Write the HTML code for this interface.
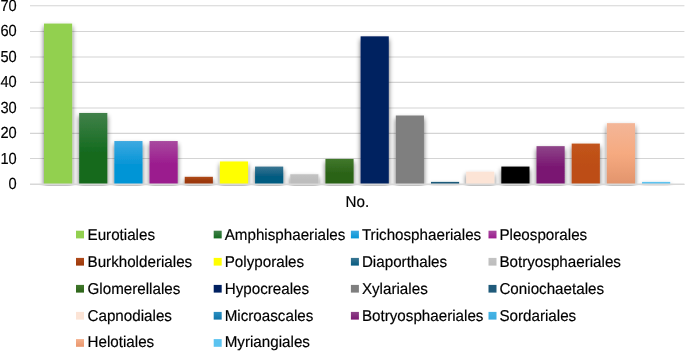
<!DOCTYPE html><html><head><meta charset="utf-8"><title>Chart</title><style>html,body{margin:0;padding:0;background:#fff;overflow:hidden}svg{display:block}text{text-rendering:geometricPrecision;stroke:#000;stroke-width:0.18px;font-family:"Liberation Sans",Arial,sans-serif;fill:#000}</style></head><body>
<svg width="685" height="351" viewBox="0 0 685 351">
<defs>
<linearGradient id="g0" x1="0" y1="0" x2="0" y2="1"><stop offset="0" stop-color="#92d050"/><stop offset="0.55" stop-color="#92d050"/><stop offset="1" stop-color="#92d050"/></linearGradient>
<linearGradient id="g1" x1="0" y1="0" x2="0" y2="1"><stop offset="0" stop-color="#41814a"/><stop offset="0.55" stop-color="#146b1f"/><stop offset="1" stop-color="#146b1f"/></linearGradient>
<linearGradient id="g2" x1="0" y1="0" x2="0" y2="1"><stop offset="0" stop-color="#3ea9e1"/><stop offset="0.55" stop-color="#0595d6"/><stop offset="1" stop-color="#0595d6"/></linearGradient>
<linearGradient id="g3" x1="0" y1="0" x2="0" y2="1"><stop offset="0" stop-color="#a84a9f"/><stop offset="0.55" stop-color="#9b1b8e"/><stop offset="1" stop-color="#9b1b8e"/></linearGradient>
<linearGradient id="g4" x1="0" y1="0" x2="0" y2="1"><stop offset="0" stop-color="#b04b1c"/><stop offset="0.55" stop-color="#9c390a"/><stop offset="1" stop-color="#9c390a"/></linearGradient>
<linearGradient id="g5" x1="0" y1="0" x2="0" y2="1"><stop offset="0" stop-color="#ffff00"/><stop offset="0.55" stop-color="#ffff00"/><stop offset="1" stop-color="#ffff00"/></linearGradient>
<linearGradient id="g6" x1="0" y1="0" x2="0" y2="1"><stop offset="0" stop-color="#3a7692"/><stop offset="0.55" stop-color="#065b81"/><stop offset="1" stop-color="#065b81"/></linearGradient>
<linearGradient id="g7" x1="0" y1="0" x2="0" y2="1"><stop offset="0" stop-color="#c3c3c3"/><stop offset="0.55" stop-color="#bdbdbd"/><stop offset="1" stop-color="#bdbdbd"/></linearGradient>
<linearGradient id="g8" x1="0" y1="0" x2="0" y2="1"><stop offset="0" stop-color="#41782c"/><stop offset="0.55" stop-color="#2c6418"/><stop offset="1" stop-color="#2c6418"/></linearGradient>
<linearGradient id="g9" x1="0" y1="0" x2="0" y2="1"><stop offset="0" stop-color="#002060"/><stop offset="0.55" stop-color="#002060"/><stop offset="1" stop-color="#002060"/></linearGradient>
<linearGradient id="g10" x1="0" y1="0" x2="0" y2="1"><stop offset="0" stop-color="#7f7f7f"/><stop offset="0.55" stop-color="#7f7f7f"/><stop offset="1" stop-color="#7f7f7f"/></linearGradient>
<linearGradient id="g11" x1="0" y1="0" x2="0" y2="1"><stop offset="0" stop-color="#1f5a7a"/><stop offset="0.55" stop-color="#1f5a7a"/><stop offset="1" stop-color="#1f5a7a"/></linearGradient>
<linearGradient id="g12" x1="0" y1="0" x2="0" y2="1"><stop offset="0" stop-color="#fce4d6"/><stop offset="0.55" stop-color="#fce4d6"/><stop offset="1" stop-color="#fce4d6"/></linearGradient>
<linearGradient id="g13" x1="0" y1="0" x2="0" y2="1"><stop offset="0" stop-color="#000000"/><stop offset="0.55" stop-color="#000000"/><stop offset="1" stop-color="#000000"/></linearGradient>
<linearGradient id="g14" x1="0" y1="0" x2="0" y2="1"><stop offset="0" stop-color="#8e4589"/><stop offset="0.55" stop-color="#7a1772"/><stop offset="1" stop-color="#7a1772"/></linearGradient>
<linearGradient id="g15" x1="0" y1="0" x2="0" y2="1"><stop offset="0" stop-color="#c2541c"/><stop offset="0.55" stop-color="#bd4e14"/><stop offset="1" stop-color="#bd4e14"/></linearGradient>
<linearGradient id="g16" x1="0" y1="0" x2="0" y2="1"><stop offset="0" stop-color="#f3b698"/><stop offset="0.5" stop-color="#f6aa80"/><stop offset="1" stop-color="#e2946c"/></linearGradient>
<linearGradient id="g17" x1="0" y1="0" x2="0" y2="1"><stop offset="0" stop-color="#5bc3f0"/><stop offset="0.55" stop-color="#5bc3f0"/><stop offset="1" stop-color="#5bc3f0"/></linearGradient>
<linearGradient id="l0" x1="0" y1="0" x2="0" y2="1"><stop offset="0" stop-color="#92d050"/><stop offset="1" stop-color="#92d050"/></linearGradient>
<linearGradient id="l1" x1="0" y1="0" x2="0" y2="1"><stop offset="0" stop-color="#41814a"/><stop offset="1" stop-color="#146b1f"/></linearGradient>
<linearGradient id="l2" x1="0" y1="0" x2="0" y2="1"><stop offset="0" stop-color="#3ea9e1"/><stop offset="1" stop-color="#0595d6"/></linearGradient>
<linearGradient id="l3" x1="0" y1="0" x2="0" y2="1"><stop offset="0" stop-color="#a84a9f"/><stop offset="1" stop-color="#9b1b8e"/></linearGradient>
<linearGradient id="l4" x1="0" y1="0" x2="0" y2="1"><stop offset="0" stop-color="#b04b1c"/><stop offset="1" stop-color="#9c390a"/></linearGradient>
<linearGradient id="l5" x1="0" y1="0" x2="0" y2="1"><stop offset="0" stop-color="#ffff00"/><stop offset="1" stop-color="#ffff00"/></linearGradient>
<linearGradient id="l6" x1="0" y1="0" x2="0" y2="1"><stop offset="0" stop-color="#3a7692"/><stop offset="1" stop-color="#065b81"/></linearGradient>
<linearGradient id="l7" x1="0" y1="0" x2="0" y2="1"><stop offset="0" stop-color="#c3c3c3"/><stop offset="1" stop-color="#bdbdbd"/></linearGradient>
<linearGradient id="l8" x1="0" y1="0" x2="0" y2="1"><stop offset="0" stop-color="#41782c"/><stop offset="1" stop-color="#2c6418"/></linearGradient>
<linearGradient id="l9" x1="0" y1="0" x2="0" y2="1"><stop offset="0" stop-color="#002060"/><stop offset="1" stop-color="#002060"/></linearGradient>
<linearGradient id="l10" x1="0" y1="0" x2="0" y2="1"><stop offset="0" stop-color="#7f7f7f"/><stop offset="1" stop-color="#7f7f7f"/></linearGradient>
<linearGradient id="l11" x1="0" y1="0" x2="0" y2="1"><stop offset="0" stop-color="#1f5a7a"/><stop offset="1" stop-color="#1f5a7a"/></linearGradient>
<linearGradient id="l12" x1="0" y1="0" x2="0" y2="1"><stop offset="0" stop-color="#fce4d6"/><stop offset="1" stop-color="#fce4d6"/></linearGradient>
<linearGradient id="l13" x1="0" y1="0" x2="0" y2="1"><stop offset="0" stop-color="#2b90c2"/><stop offset="1" stop-color="#0e74a8"/></linearGradient>
<linearGradient id="l14" x1="0" y1="0" x2="0" y2="1"><stop offset="0" stop-color="#8e4589"/><stop offset="1" stop-color="#7a1772"/></linearGradient>
<linearGradient id="l15" x1="0" y1="0" x2="0" y2="1"><stop offset="0" stop-color="#45b4e6"/><stop offset="1" stop-color="#3aaade"/></linearGradient>
<linearGradient id="l16" x1="0" y1="0" x2="0" y2="1"><stop offset="0" stop-color="#f4b08c"/><stop offset="1" stop-color="#e9966c"/></linearGradient>
<linearGradient id="l17" x1="0" y1="0" x2="0" y2="1"><stop offset="0" stop-color="#5bc3f0"/><stop offset="1" stop-color="#5bc3f0"/></linearGradient>
<filter id="sh" filterUnits="userSpaceOnUse" x="0" y="0" width="685" height="200"><feGaussianBlur in="SourceAlpha" stdDeviation="2.4"/><feOffset dx="0" dy="2.6"/><feComponentTransfer><feFuncA type="linear" slope="0.6"/></feComponentTransfer><feMerge><feMergeNode/><feMergeNode in="SourceGraphic"/></feMerge></filter>
<clipPath id="cp"><rect x="0" y="0" width="685" height="186.0"/></clipPath>
</defs>
<rect width="685" height="351" fill="#fff"/>
<line x1="30" x2="684.4" y1="184.50" y2="184.50" stroke="#d4d4d4" stroke-width="1.15"/>
<line x1="30" x2="684.4" y1="158.50" y2="158.50" stroke="#d4d4d4" stroke-width="1.15"/>
<line x1="30" x2="684.4" y1="133.40" y2="133.40" stroke="#d4d4d4" stroke-width="1.15"/>
<line x1="30" x2="684.4" y1="107.95" y2="107.95" stroke="#d4d4d4" stroke-width="1.15"/>
<line x1="30" x2="684.4" y1="82.30" y2="82.30" stroke="#d4d4d4" stroke-width="1.15"/>
<line x1="30" x2="684.4" y1="57.00" y2="57.00" stroke="#d4d4d4" stroke-width="1.15"/>
<line x1="30" x2="684.4" y1="31.50" y2="31.50" stroke="#d4d4d4" stroke-width="1.15"/>
<line x1="30" x2="684.4" y1="5.70" y2="5.70" stroke="#d4d4d4" stroke-width="1.15"/>
<text transform="translate(16.7,189.40) rotate(0.02) scale(0.915,1)" font-size="16.0" text-anchor="end">0</text>
<text transform="translate(16.7,163.86) rotate(0.02) scale(0.915,1)" font-size="16.0" text-anchor="end">10</text>
<text transform="translate(16.7,138.33) rotate(0.02) scale(0.915,1)" font-size="16.0" text-anchor="end">20</text>
<text transform="translate(16.7,112.79) rotate(0.02) scale(0.915,1)" font-size="16.0" text-anchor="end">30</text>
<text transform="translate(16.7,87.26) rotate(0.02) scale(0.915,1)" font-size="16.0" text-anchor="end">40</text>
<text transform="translate(16.7,61.72) rotate(0.02) scale(0.915,1)" font-size="16.0" text-anchor="end">50</text>
<text transform="translate(16.7,36.19) rotate(0.02) scale(0.915,1)" font-size="16.0" text-anchor="end">60</text>
<text transform="translate(16.7,10.65) rotate(0.02) scale(0.915,1)" font-size="16.0" text-anchor="end">70</text>
<g clip-path="url(#cp)">
<rect x="44.00" y="23.57" width="28.15" height="160.57" fill="url(#g0)" filter="url(#sh)"/>
<rect x="79.18" y="112.95" width="28.15" height="71.20" fill="url(#g1)" filter="url(#sh)"/>
<rect x="114.36" y="141.04" width="28.15" height="43.11" fill="url(#g2)" filter="url(#sh)"/>
<rect x="149.54" y="141.04" width="28.15" height="43.11" fill="url(#g3)" filter="url(#sh)"/>
<rect x="184.72" y="176.79" width="28.15" height="7.36" fill="url(#g4)" filter="url(#sh)"/>
<rect x="219.90" y="161.47" width="28.15" height="22.68" fill="url(#g5)" filter="url(#sh)"/>
<rect x="255.08" y="166.57" width="28.15" height="17.57" fill="url(#g6)" filter="url(#sh)"/>
<rect x="290.26" y="174.24" width="28.15" height="9.91" fill="url(#g7)" filter="url(#sh)"/>
<rect x="325.44" y="158.91" width="28.15" height="25.24" fill="url(#g8)" filter="url(#sh)"/>
<rect x="360.62" y="36.34" width="28.15" height="147.81" fill="url(#g9)" filter="url(#sh)"/>
<rect x="395.80" y="115.50" width="28.15" height="68.65" fill="url(#g10)" filter="url(#sh)"/>
<rect x="430.98" y="181.90" width="28.15" height="2.25" fill="url(#g11)" filter="url(#sh)"/>
<rect x="466.16" y="171.68" width="28.15" height="12.47" fill="url(#g12)" filter="url(#sh)"/>
<rect x="501.34" y="166.57" width="28.15" height="17.57" fill="url(#g13)" filter="url(#sh)"/>
<rect x="536.52" y="146.15" width="28.15" height="38.00" fill="url(#g14)" filter="url(#sh)"/>
<rect x="571.70" y="143.59" width="28.15" height="40.56" fill="url(#g15)" filter="url(#sh)"/>
<rect x="606.88" y="123.16" width="28.15" height="60.99" fill="url(#g16)" filter="url(#sh)"/>
<rect x="642.06" y="181.90" width="28.15" height="2.25" fill="url(#g17)" filter="url(#sh)"/>
</g>
<rect x="30" y="185" width="655" height="1" fill="#fff" fill-opacity="0.45"/>
<line x1="30" x2="684.4" y1="184.3" y2="184.3" stroke="#d8d8d8" stroke-width="1.5"/>
<text transform="translate(357.3,207.0) rotate(0.02) scale(0.968,1)" font-size="15.7" text-anchor="middle">No.</text>
<rect x="76.0"  y="230.70" width="8" height="7.7" fill="url(#l0)"/>
<text transform="translate(87.50,239.75) rotate(0.02) scale(0.968,1)" font-size="15.7">Eurotiales</text>
<rect x="213.7"  y="230.70" width="8" height="7.7" fill="url(#l1)"/>
<text transform="translate(224.70,239.75) rotate(0.02) scale(0.968,1)" font-size="15.7">Amphisphaeriales</text>
<rect x="350.9"  y="230.70" width="8" height="7.7" fill="url(#l2)"/>
<text transform="translate(361.90,239.75) rotate(0.02) scale(0.968,1)" font-size="15.7">Trichosphaeriales</text>
<rect x="488.5"  y="230.70" width="8" height="7.7" fill="url(#l3)"/>
<text transform="translate(499.40,239.75) rotate(0.02) scale(0.968,1)" font-size="15.7">Pleosporales</text>
<rect x="76.0"  y="257.90" width="8" height="7.7" fill="url(#l4)"/>
<text transform="translate(87.50,266.70) rotate(0.02) scale(0.968,1)" font-size="15.7">Burkholderiales</text>
<rect x="213.7"  y="257.90" width="8" height="7.7" fill="url(#l5)"/>
<text transform="translate(224.70,266.70) rotate(0.02) scale(0.968,1)" font-size="15.7">Polyporales</text>
<rect x="350.9"  y="257.90" width="8" height="7.7" fill="url(#l6)"/>
<text transform="translate(361.90,266.70) rotate(0.02) scale(0.968,1)" font-size="15.7">Diaporthales</text>
<rect x="488.5"  y="257.90" width="8" height="7.7" fill="url(#l7)"/>
<text transform="translate(499.40,266.70) rotate(0.02) scale(0.968,1)" font-size="15.7">Botryosphaeriales</text>
<rect x="76.0"  y="284.90" width="8" height="7.7" fill="url(#l8)"/>
<text transform="translate(87.50,293.70) rotate(0.02) scale(0.968,1)" font-size="15.7">Glomerellales</text>
<rect x="213.7"  y="284.90" width="8" height="7.7" fill="url(#l9)"/>
<text transform="translate(224.70,293.70) rotate(0.02) scale(0.968,1)" font-size="15.7">Hypocreales</text>
<rect x="350.9"  y="284.90" width="8" height="7.7" fill="url(#l10)"/>
<text transform="translate(361.90,293.70) rotate(0.02) scale(0.968,1)" font-size="15.7">Xylariales</text>
<rect x="488.5"  y="284.90" width="8" height="7.7" fill="url(#l11)"/>
<text transform="translate(499.40,293.70) rotate(0.02) scale(0.968,1)" font-size="15.7">Coniochaetales</text>
<rect x="76.0"  y="311.90" width="8" height="7.7" fill="url(#l12)"/>
<text transform="translate(87.50,320.70) rotate(0.02) scale(0.968,1)" font-size="15.7">Capnodiales</text>
<rect x="213.7"  y="311.90" width="8" height="7.7" fill="url(#l13)"/>
<text transform="translate(224.70,320.70) rotate(0.02) scale(0.968,1)" font-size="15.7">Microascales</text>
<rect x="350.9"  y="311.90" width="8" height="7.7" fill="url(#l14)"/>
<text transform="translate(361.90,320.70) rotate(0.02) scale(0.968,1)" font-size="15.7">Botryosphaeriales</text>
<rect x="488.5"  y="311.90" width="8" height="7.7" fill="url(#l15)"/>
<text transform="translate(499.40,320.70) rotate(0.02) scale(0.968,1)" font-size="15.7">Sordariales</text>
<rect x="76.0"  y="339.10" width="8" height="7.7" fill="url(#l16)"/>
<text transform="translate(87.50,347.45) rotate(0.02) scale(0.968,1)" font-size="15.7">Helotiales</text>
<rect x="213.7"  y="339.10" width="8" height="7.7" fill="url(#l17)"/>
<text transform="translate(224.70,347.45) rotate(0.02) scale(0.968,1)" font-size="15.7">Myriangiales</text>
</svg></body></html>
